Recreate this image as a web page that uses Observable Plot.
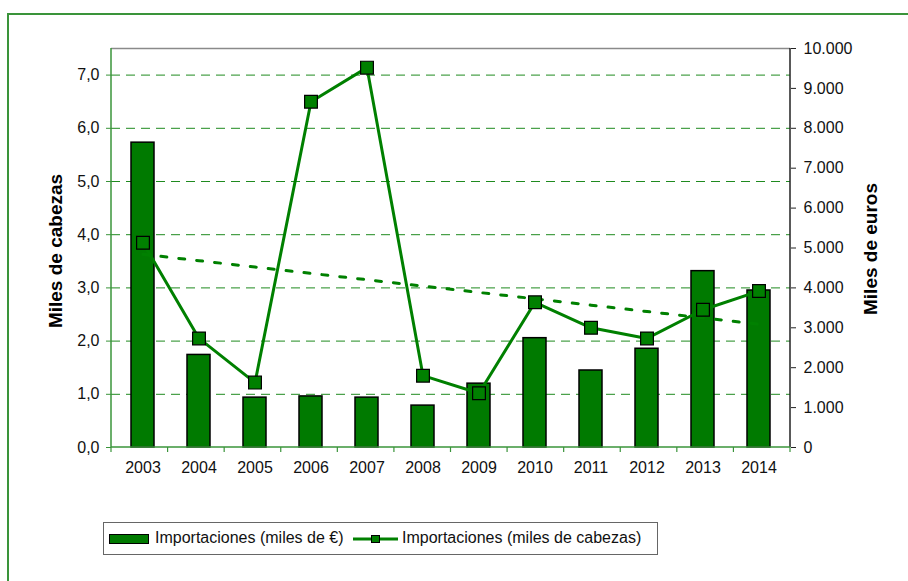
<!DOCTYPE html>
<html>
<head>
<meta charset="utf-8">
<script src="https://cdn.jsdelivr.net/npm/d3@7"></script>
<script src="https://cdn.jsdelivr.net/npm/@observablehq/plot@0.6"></script>
<style>
  html, body { margin: 0; padding: 0; background: #fff; }
  #wrap { position: relative; width: 908px; height: 581px; overflow: hidden; background: #fff; font-family: "Liberation Sans", Arial, sans-serif; }
  #border { position: absolute; left: 7px; top: 13px; width: 1000px; height: 700px; border-top: 2px solid #3a943a; border-left: 2px solid #3a943a; box-sizing: border-box; }
  #chart { position: absolute; left: 0; top: 0; }
  #legend { position: absolute; left: 103px; top: 522px; width: 555px; height: 33px; border: 1.5px solid #666; box-sizing: border-box; background: #fff; font-size: 16px; color: #111; }
  #legend .item { position: absolute; top: 0; height: 30px; line-height: 30px; white-space: nowrap; }
</style>
</head>
<body>
<div id="wrap">
  <div id="border"></div>
  <div id="chart"></div>
  <div id="legend"></div>
</div>
<script>
// ---- data ----
const years = ["2003","2004","2005","2006","2007","2008","2009","2010","2011","2012","2013","2014"];
const eurosValues = [7640, 2320, 1250, 1280, 1250, 1050, 1600, 2740, 1930, 2475, 4420, 3935]; // miles de €
const cabezasValues = [3.85, 2.05, 1.22, 6.50, 7.14, 1.35, 1.02, 2.73, 2.25, 2.05, 2.59, 2.94]; // miles de cabezas
const leftTicks = [0, 1, 2, 3, 4, 5, 6, 7];
const rightTicks = [0, 1000, 2000, 3000, 4000, 5000, 6000, 7000, 8000, 9000, 10000];
const seriesNames = ["Importaciones (miles de €)", "Importaciones (miles de cabezas)"];
const axisTitles = ["Miles de cabezas", "Miles de euros"];

// ---- derived ----
const LEFT_MAX = 7.5, RIGHT_MAX = 10000;
const toLeft = v => v * LEFT_MAX / RIGHT_MAX;
const rows = years.map((y, i) => ({year: y, euros: eurosValues[i], cabezas: cabezasValues[i], i}));
// linear trend (least squares) of the cabezas series
const mx = d3.mean(rows, d => d.i), my = d3.mean(rows, d => d.cabezas);
const slope = d3.sum(rows, d => (d.i - mx) * (d.cabezas - my)) / d3.sum(rows, d => (d.i - mx) ** 2);
const trend = rows.map(d => ({year: d.year, v: my + slope * (d.i - mx)}));

const GREEN = "#008000";
const BAR = "#007a00";
const fmtEuro = v => d3.format(",")(Math.round(v)).replace(/,/g, ".");

function frameAndTicks(index, scales, values, dims) {
  const {width, height, marginLeft, marginRight, marginTop, marginBottom} = dims;
  const x0 = marginLeft, x1 = width - marginRight, y0 = marginTop, y1 = height - marginBottom;
  const g = d3.create("svg:g").attr("fill", "none");
  g.append("line").attr("x1", x0).attr("x2", x1).attr("y1", y0 + 0.5).attr("y2", y0 + 0.5).attr("stroke", "#8a8a8a").attr("stroke-width", 1.5);
  g.append("line").attr("x1", x0).attr("x2", x0).attr("y1", y0).attr("y2", y1).attr("stroke", "#3a943a").attr("stroke-width", 1.5);
  g.append("line").attr("x1", x1).attr("x2", x1).attr("y1", y0).attr("y2", y1).attr("stroke", "#222").attr("stroke-width", 1.5);
  g.append("line").attr("x1", x0).attr("x2", x1).attr("y1", y1).attr("y2", y1).attr("stroke", "#3a943a").attr("stroke-width", 1.5);
  const step = (x1 - x0) / years.length;
  for (let k = 0; k <= years.length; k++) {
    g.append("line").attr("x1", x0 + k * step).attr("x2", x0 + k * step).attr("y1", y1).attr("y2", y1 + 5).attr("stroke", "#3a943a").attr("stroke-width", 1.2);
  }
  return g.node();
}

const plot = Plot.plot({
  width: 908,
  height: 500,
  marginTop: 48,
  marginLeft: 111,
  marginRight: 118,
  marginBottom: 53,
  style: {fontFamily: "'Liberation Sans', Arial, sans-serif", fontSize: "16px", background: "transparent", color: "#111"},
  x: {type: "band", domain: years, paddingInner: 0.587, paddingOuter: 0.2935, label: null},
  y: {domain: [0, LEFT_MAX], label: null},
  marks: [
    Plot.ruleY(leftTicks.filter(d => d > 0), {y: d => d, stroke: "#1f8a1f", strokeWidth: 1, strokeDasharray: "9,6"}),
    Plot.barY(rows, {x: "year", y: d => toLeft(d.euros), fill: BAR, stroke: "#000", strokeWidth: 1.5}),
    Plot.line(trend, {x: "year", y: "v", stroke: GREEN, strokeWidth: 3, strokeDasharray: "6,12"}),
    Plot.line(rows, {x: "year", y: "cabezas", stroke: GREEN, strokeWidth: 3}),
    Plot.dot(rows, {x: "year", y: "cabezas", symbol: "square", r: 7.2, fill: GREEN, stroke: "#000", strokeWidth: 1.2}),
    Plot.axisX({tickSize: 0, tickPadding: 14, fill: "#111", label: null}),
    Plot.axisY(leftTicks, {anchor: "left", tickSize: 5, tickPadding: 7, stroke: "#3a943a", fill: "#111", label: null,
      tickFormat: d => d.toFixed(1).replace(".", ",")}),
    Plot.axisY(rightTicks.map(toLeft), {anchor: "right", tickSize: 5, tickPadding: 8, stroke: "#222", fill: "#111", label: null,
      tickFormat: d => fmtEuro(d * RIGHT_MAX / LEFT_MAX)}),
    frameAndTicks,
    Plot.text([axisTitles[0]], {frameAnchor: "left", textAnchor: "middle", lineAnchor: "middle", dx: -56, dy: 3, rotate: -90, text: d => d, fontWeight: "bold", fontSize: 19, fill: "#000"}),
    Plot.text([axisTitles[1]], {frameAnchor: "right", textAnchor: "middle", lineAnchor: "middle", dx: 80, dy: 1, rotate: -90, text: d => d, fontWeight: "bold", fontSize: 19, fill: "#000"})
  ]
});
document.getElementById("chart").appendChild(plot);

// ---- legend ----
const legend = d3.select("#legend");
const it1 = legend.append("div").attr("class", "item").style("left", "5px");
it1.append("span").style("display", "inline-block").style("width", "40px").style("height", "10px")
  .style("background", BAR).style("border", "1.5px solid #000").style("box-sizing", "border-box")
  .style("vertical-align", "middle").style("margin-right", "6px");
it1.append("span").text(seriesNames[0]);
const it2 = legend.append("div").attr("class", "item").style("left", "249px");
const sw = it2.append("svg").attr("width", 45).attr("height", 12).style("vertical-align", "middle").style("margin-right", "4px");
sw.append("line").attr("x1", 0).attr("x2", 45).attr("y1", 6).attr("y2", 6).attr("stroke", GREEN).attr("stroke-width", 3);
sw.append("rect").attr("x", 18.5).attr("y", 2.5).attr("width", 8).attr("height", 7).attr("fill", GREEN).attr("stroke", "#000").attr("stroke-width", 1);
it2.append("span").text(seriesNames[1]);
</script>
</body>
</html>
